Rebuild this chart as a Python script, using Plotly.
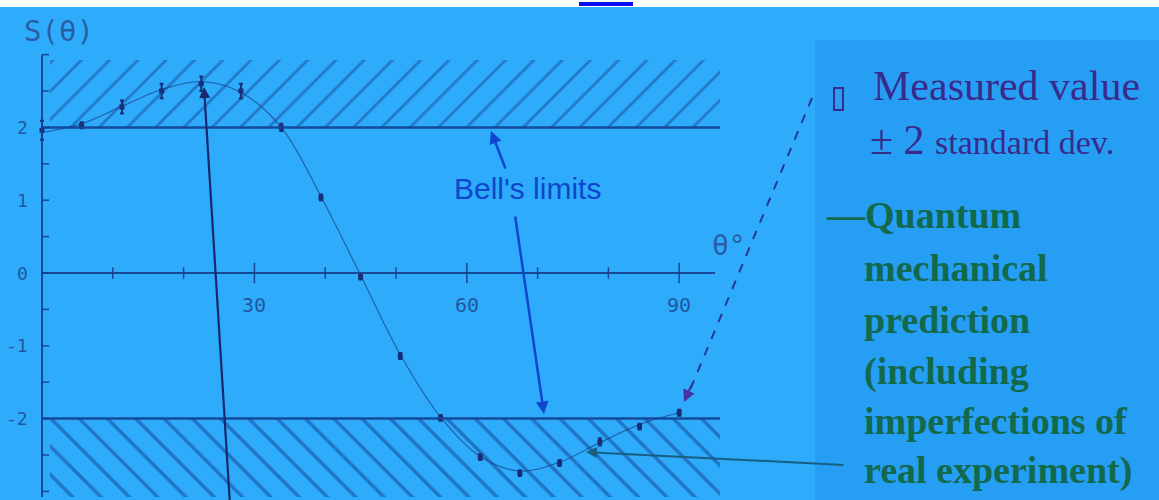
import plotly.graph_objects as go

# ---------- data ----------
# measured S(theta) with +/- 2 standard deviations
theta_meas = [0, 5.6, 11.3, 16.9, 22.5, 28.1, 33.8, 39.4, 45, 50.6, 56.3, 61.9, 67.5, 73.1, 78.8, 84.4, 90]
s_meas = [1.96, 2.03, 2.28, 2.5, 2.6, 2.5, 2.0, 1.04, -0.05, -1.14, -1.99, -2.53, -2.75, -2.61, -2.32, -2.11, -1.92]
s_err = [0.13, 0.04, 0.09, 0.1, 0.1, 0.1, 0.05, 0.04, 0.04, 0.04, 0.04, 0.04, 0.04, 0.04, 0.05, 0.04, 0.04]

# quantum mechanical prediction (incl. imperfections)
theta_qm = [0, 5.6, 11.3, 16.9, 22.5, 28.1, 33.8, 39.4, 45, 50.6, 56.3, 61.9, 67.5, 73.1, 78.8, 84.4, 90]
s_qm = [1.93, 2.05, 2.29, 2.52, 2.63, 2.48, 2.0, 1.05, -0.03, -1.12, -1.98, -2.52, -2.72, -2.6, -2.33, -2.08, -1.92]

bell_limit = 2
y_ticklabels = {2: "2", 1: "1", 0: "0", -1: "-1", -2: "-2"}
x_ticklabels = [30, 60, 90]

# ---------- geometry of the photographed slide ----------
W, H = 1159, 500
X0, PXDEG = 42, 7.08      # pixel of theta=0, pixels per degree
Y0, PXUNIT = 273, 72.8    # pixel of S=0, pixels per unit


def fx(px):
    return (px - X0) / PXDEG


def fy(py):
    return (Y0 - py) / PXUNIT


def px_(p):
    return p / W


def py_(p):
    return 1 - p / H


BG = "rgb(46,171,250)"
PANEL = "rgb(38,158,244)"
INK = "rgba(22,62,140,0.9)"
PLOT_FONT = "DejaVu Sans Mono"

fig = go.Figure()

x_end = fx(720)
y_top = fy(60)
y_bot = fy(497)

# hatched "forbidden" regions beyond Bell's limits
fig.add_trace(go.Scatter(
    x=[fx(50), x_end, x_end, fx(50), fx(50)],
    y=[bell_limit, bell_limit, y_top, y_top, bell_limit],
    fill="toself", mode="none", fillcolor="rgba(0,0,0,0)",
    fillpattern=dict(shape="/", fgcolor="rgba(20,60,140,0.9)", bgcolor="rgba(0,0,0,0)",
                     size=20, solidity=0.14),
    hoverinfo="skip"))
fig.add_trace(go.Scatter(
    x=[fx(50), x_end, x_end, fx(50), fx(50)],
    y=[-bell_limit, -bell_limit, y_bot, y_bot, -bell_limit],
    fill="toself", mode="none", fillcolor="rgba(0,0,0,0)",
    fillpattern=dict(shape="\\", fgcolor="rgba(15,55,135,0.95)", bgcolor="rgba(0,0,0,0)",
                     size=20, solidity=0.17),
    hoverinfo="skip"))

# QM prediction curve
fig.add_trace(go.Scatter(
    x=theta_qm, y=s_qm, mode="lines", line_shape="spline",
    line=dict(color="rgba(25,60,130,0.7)", width=1.1), hoverinfo="skip"))

# measured values
fig.add_trace(go.Scatter(
    x=theta_meas, y=s_meas, mode="markers",
    marker=dict(symbol="square", size=5, color="rgb(25,45,120)"),
    error_y=dict(type="data", array=s_err, color="rgb(25,45,120)", thickness=2, width=2),
    hoverinfo="skip"))

shapes = []
# background panel on the right and the white strip on top
shapes.append(dict(type="rect", xref="paper", yref="paper", x0=px_(815), x1=1, y0=0, y1=py_(40),
                   fillcolor=PANEL, line=dict(width=0), layer="below"))
shapes.append(dict(type="rect", xref="paper", yref="paper", x0=0, x1=1, y0=py_(7), y1=1,
                   fillcolor="white", line=dict(width=0), layer="above"))
shapes.append(dict(type="line", xref="paper", yref="paper", x0=px_(579), x1=px_(633),
                   y0=py_(4), y1=py_(4), line=dict(color="rgb(10,10,240)", width=4)))

# axes
shapes.append(dict(type="line", x0=0, x1=0, y0=y_bot, y1=fy(55), line=dict(color=INK, width=2)))
shapes.append(dict(type="line", x0=0, x1=fx(715), y0=0, y1=0, line=dict(color=INK, width=2)))
for lim in (bell_limit, -bell_limit):
    shapes.append(dict(type="line", x0=0, x1=x_end, y0=lim, y1=lim,
                       line=dict(color="rgba(20,70,150,0.95)", width=2.5)))
# y ticks every 0.5
for k in range(-6, 7):
    v = k * 0.5
    shapes.append(dict(type="line", x0=0, x1=1.0, y0=v, y1=v, line=dict(color=INK, width=1.5)))
# x ticks every 10 degrees
for t in range(10, 100, 10):
    h = 0.14 if t in x_ticklabels else 0.08
    shapes.append(dict(type="line", x0=t, x1=t, y0=-h, y1=h, line=dict(color=INK, width=1.5)))

# legend box symbol
PURPLE = "rgb(58,42,140)"
shapes.append(dict(type="rect", xref="paper", yref="paper", x0=px_(834), x1=px_(843),
                   y0=py_(110), y1=py_(88), line=dict(color=PURPLE, width=2)))

annotations = []
lab_font = dict(family=PLOT_FONT, size=18, color="rgba(30,70,140,0.85)")
for v, txt in y_ticklabels.items():
    annotations.append(dict(x=fx(30), y=v, text=txt, showarrow=False, xanchor="right",
                            yanchor="middle", font=lab_font))
for t in x_ticklabels:
    annotations.append(dict(x=t, y=fy(305), text=str(t), showarrow=False, xanchor="center",
                            yanchor="middle", font=dict(family=PLOT_FONT, size=20, color="rgba(30,70,140,0.85)")))
annotations.append(dict(x=px_(22), y=py_(31), xref="paper", yref="paper", text="S(θ)",
                        showarrow=False, xanchor="left", yanchor="middle",
                        font=dict(family=PLOT_FONT, size=29, color="rgba(40,80,150,0.85)")))
annotations.append(dict(x=px_(710), y=py_(245), xref="paper", yref="paper", text="θ°",
                        showarrow=False, xanchor="left", yanchor="middle",
                        font=dict(family=PLOT_FONT, size=28, color="rgba(40,80,150,0.85)")))

# Bell's limits label + arrows
BELL = "rgb(15,70,205)"
annotations.append(dict(x=px_(527), y=py_(188), xref="paper", yref="paper", text="Bell's limits",
                        showarrow=False, font=dict(family="Liberation Sans", size=30, color=BELL)))
annotations.append(dict(x=fx(491), y=fy(131), ax=fx(506), ay=fy(170), xref="x", yref="y",
                        axref="x", ayref="y", text="", showarrow=True, arrowhead=2, arrowsize=1,
                        arrowwidth=2.5, arrowcolor=BELL))
annotations.append(dict(x=fx(544), y=fy(414), ax=fx(515), ay=fy(215), xref="x", yref="y",
                        axref="x", ayref="y", text="", showarrow=True, arrowhead=2, arrowsize=1,
                        arrowwidth=2.5, arrowcolor=BELL))

# dark arrow pointing at the maximum
annotations.append(dict(x=fx(204), y=fy(87), ax=fx(230), ay=fy(505), xref="x", yref="y",
                        axref="x", ayref="y", text="", showarrow=True, arrowhead=2, arrowsize=1,
                        arrowwidth=2.2, arrowcolor="rgb(25,40,110)"))

# dashed arrow from legend to a measured point
shapes.append(dict(type="line", x0=fx(812), y0=fy(98), x1=fx(690), y1=fy(390),
                   line=dict(color="rgb(40,55,150)", width=2, dash="dash")))
annotations.append(dict(x=fx(684), y=fy(402), ax=fx(692), ay=fy(384), xref="x", yref="y",
                        axref="x", ayref="y", text="", showarrow=True, arrowhead=2, arrowsize=1.2,
                        arrowwidth=2, arrowcolor="rgb(70,50,160)"))

# green arrow from legend to the curve
annotations.append(dict(x=fx(586), y=fy(452), ax=fx(845), ay=fy(465), xref="x", yref="y",
                        axref="x", ayref="y", text="", showarrow=True, arrowhead=2, arrowsize=1.1,
                        arrowwidth=2, arrowcolor="rgb(25,95,130)"))

# right-hand legend text
GREEN = "rgb(18,105,75)"
SERIF = "Liberation Serif"
annotations.append(dict(x=px_(871), y=py_(86), xref="paper", yref="paper", text="Measured value",
                        showarrow=False, xanchor="left", yanchor="middle",
                        font=dict(family=SERIF, size=42, color=PURPLE)))
annotations.append(dict(x=px_(868), y=py_(140), xref="paper", yref="paper",
                        text="± 2 <span style='font-size:34px'>standard dev.</span>",
                        showarrow=False, xanchor="left", yanchor="middle",
                        font=dict(family=SERIF, size=42, color=PURPLE)))
green_lines = ["—Quantum", "mechanical", "prediction", "(including",
               "imperfections of", "real experiment)"]
green_x = [824, 862, 862, 862, 862, 862]
green_y = [215, 268, 320, 371, 421, 470]
for i, line in enumerate(green_lines):
    annotations.append(dict(x=px_(green_x[i]), y=py_(green_y[i]), xref="paper", yref="paper",
                            text="<b>%s</b>" % line, showarrow=False, xanchor="left",
                            yanchor="middle", font=dict(family=SERIF, size=38, color=GREEN)))

fig.update_layout(
    width=W, height=H, margin=dict(l=0, r=0, t=0, b=0),
    paper_bgcolor=BG, plot_bgcolor=BG, showlegend=False,
    xaxis=dict(range=[fx(0), fx(W)], visible=False, fixedrange=True),
    yaxis=dict(range=[fy(H), fy(0)], visible=False, fixedrange=True),
    shapes=shapes, annotations=annotations,
)

fig.write_html("out.html", config={"displayModeBar": False},
               post_script="document.body.style.margin='0';document.body.style.overflow='hidden';")
